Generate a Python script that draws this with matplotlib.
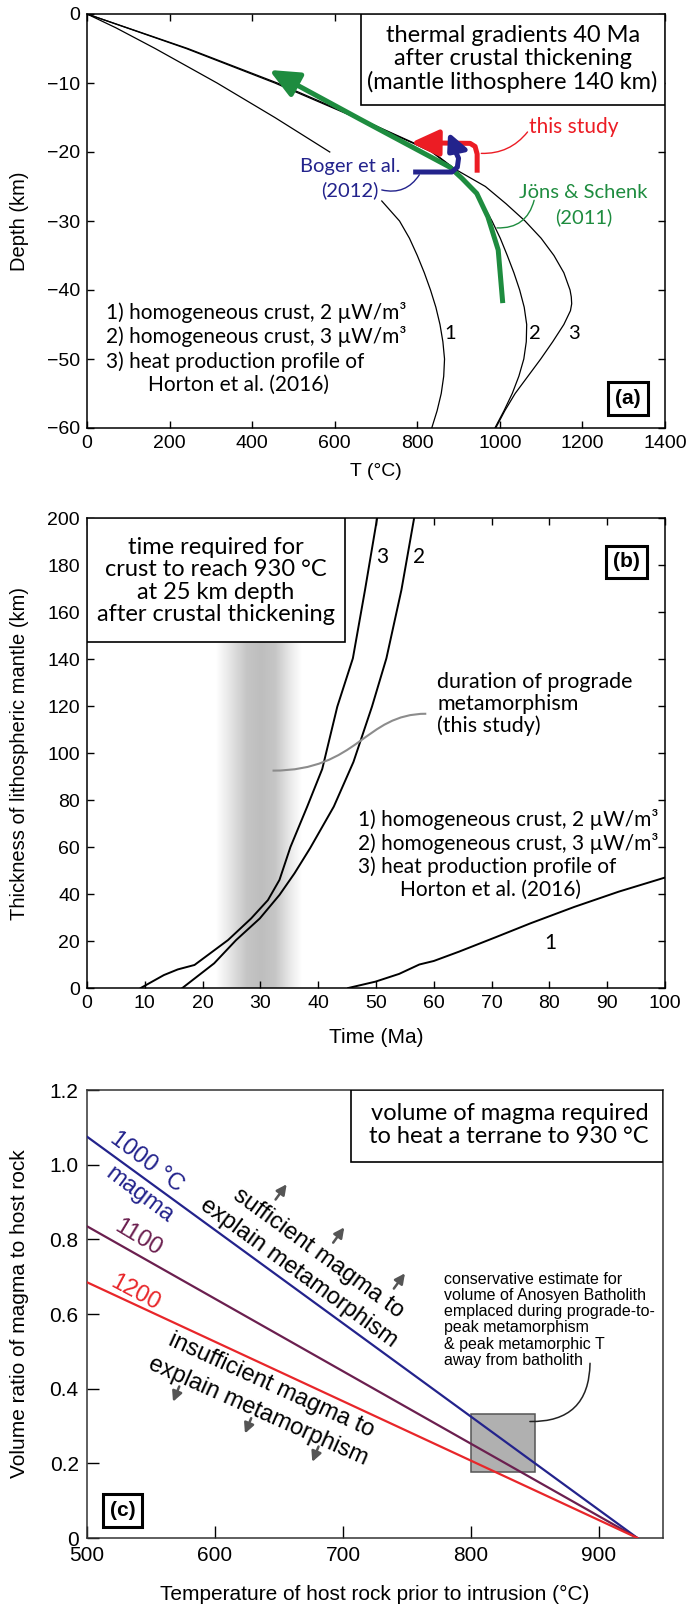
import numpy as np
import matplotlib.pyplot as plt
from matplotlib.patches import Rectangle, FancyArrowPatch, PathPatch
from matplotlib.path import Path

SANS = ['Liberation Sans', 'DejaVu Sans']
MYR = ['Lato', 'DejaVu Sans']
plt.rcParams['font.family'] = SANS
plt.rcParams['axes.linewidth'] = 1.1

GREEN = '#1e8c3f'
RED = '#ec1c24'
NAVY = '#23238c'
PURPLE = '#6b1f4f'
RED_C = '#e8262a'

# === (a) geotherms 40 Ma after crustal thickening ===
depth_1 = [0, -2, -5, -10, -15, -20, -25, -27.1, -30, -32.5, -35, -37.5, -40, -42.5, -45,
           -47.5, -50, -52.5, -55, -57.5, -60]
temp_1 = [0, 70, 165, 315, 455, 588, 685, 714, 757, 781, 800, 817, 832, 845, 855,
          862, 866, 864, 858, 848, 835]
gap_1 = (-27.1, -20.0)  # curve 1 is cut behind the Boger et al. label

depth_2 = [0, -5, -10, -15, -18.7, -20, -22.5, -25, -27.5, -30, -32.5, -35, -37.5, -40, -42.5,
           -45, -47.5, -50, -52.5, -55, -57.5, -60]
temp_2 = [0, 240, 455, 650, 789, 835, 890, 930, 958, 981, 1001, 1018, 1034, 1048, 1059,
          1065, 1064, 1058, 1046, 1030, 1010, 988]

depth_3 = [0, -5, -10, -15, -18.7, -20, -22.5, -25, -27.5, -30, -32.5, -35, -37.5, -40, -41,
           -42, -43, -45, -47.5, -50, -52.5, -55, -57.5, -60]
temp_3 = [0, 244, 461, 655, 792, 837, 892, 965, 1015, 1061, 1100, 1131, 1155, 1170, 1173,
          1174, 1171, 1155, 1128, 1099, 1068, 1037, 1012, 990]

# P-T paths
jons_T = [1007, 996, 971, 944, 908, 879, 660, 441]
jons_d = [-41.9, -34.2, -29.4, -26.0, -23.8, -22.2, -15.2, -8.1]
study_T = [945, 945, 940, 928, 784]
study_d = [-23.0, -20.3, -19.2, -18.75, -18.65]
boger_T = [790, 884, 897, 900, 893, 882, 872]
boger_d = [-22.9, -22.9, -22.2, -20.9, -20.0, -19.9, -20.6]

# === (b) time to reach 930 C at 25 km ===
time_1 = [45.2, 49.9, 54.0, 57.5, 60.0, 64.4, 70.6, 76.7, 84.3, 92.0, 100.0]
thick_1 = [0, 2.7, 6.0, 10.0, 11.5, 15.5, 21.5, 27.5, 34.5, 41.0, 47.0]
time_2 = [16.5, 22.0, 25.8, 29.9, 33.3, 35.9, 38.6, 42.7, 46.1, 49.3, 51.8, 54.4, 56.6]
thick_2 = [0, 10.5, 20.4, 29.6, 39.6, 48.8, 59.5, 77.2, 96.2, 119.7, 140.3, 169.4, 200]
time_3 = [9.3, 13.3, 15.7, 18.6, 24.4, 28.4, 31.3, 33.3, 35.2, 38.1, 40.7, 43.3, 46.0, 48.1, 50.2]
thick_3 = [0, 5.5, 7.9, 9.8, 20.4, 29.6, 37.4, 46, 60, 77.2, 93.2, 119.7, 140.3, 169.4, 200]
# prograde duration band (shade strength across the band)
band_t = [22.3, 24.5, 27.5, 30.0, 32.5, 35.0, 37.1]
band_a = [0, 0.3, 0.75, 0.85, 0.75, 0.3, 0]

# === (c) magma volume ===
host_T = [500, 930]
ratio_1000 = [1.075, 0.0]
ratio_1100 = [0.835, 0.0]
ratio_1200 = [0.685, 0.0]
bath_T = (800, 850)
bath_v = (0.177, 0.333)
up_tips_T = [656, 701, 748.4]
up_tips_v = [0.9475, 0.832, 0.709]
down_tips_T = [567.2, 623.4, 676]
down_tips_v = [0.365, 0.28, 0.204]

fig = plt.figure(figsize=(6.89, 16.10), dpi=100)
L, W = 87 / 689, 578 / 689
axa = fig.add_axes([L, 1 - 428 / 1610, W, 414 / 1610])
axb = fig.add_axes([L, 1 - 988 / 1610, W, 470 / 1610])
axc = fig.add_axes([L, 1 - 1538 / 1610, 576 / 689, 448 / 1610])


def label_box(ax, x, y, s):
    ax.text(x, y, s, ha='center', va='center', fontsize=15, fontweight='bold',
            bbox=dict(boxstyle='square,pad=0.33', fc='white', ec='black', lw=2.2), zorder=6)


# ---------------- (a) ----------------
ax = axa
d1 = np.array(depth_1, float)
t1 = np.array(temp_1, float)
t1[(d1 > gap_1[0]) & (d1 < gap_1[1])] = np.nan
ax.plot(t1, d1, color='black', lw=0.9)
ax.plot(temp_2, depth_2, color='black', lw=0.9)
ax.plot(temp_3, depth_3, color='black', lw=0.9)

for T, d, col, hl, hw in [(jons_T, jons_d, GREEN, 1.8, 0.8), (study_T, study_d, RED, 1.7, 0.8),
                          (boger_T, boger_d, NAVY, 0.9, 0.7)]:
    p = Path(list(zip(T, d)))
    ax.add_patch(FancyArrowPatch(path=p, arrowstyle=f'-|>,head_length={hl},head_width={hw}',
                                 mutation_scale=10, lw=3.6, color=col, zorder=4,
                                 joinstyle='round', capstyle='butt'))

ax.set_xlim(0, 1400)
ax.set_ylim(-60, 0)
ax.set_xticks(np.arange(0, 1401, 200))
ax.set_yticks(np.arange(-60, 1, 10))
ax.tick_params(direction='in', length=5, width=1, top=True, right=True, labelsize=14, pad=5)
ax.set_xlabel('T (°C)', fontsize=14)
ax.xaxis.set_label_coords(0.5, -0.085)
ax.set_ylabel('Depth (km)', fontsize=14.5)
ax.yaxis.set_label_coords(-0.1, 0.5)

ax.add_patch(Rectangle((663, -13.2), 737, 13.2, fc='white', ec='black', lw=1.2, zorder=3))
ax.text(1031, -6.5, 'thermal gradients 40 Ma\nafter crustal thickening\n(mantle lithosphere 140 km)',
        ha='center', va='center', fontsize=17, family=MYR, linespacing=1.12, zorder=5)

for y, s in [(-43.3, '1) homogeneous crust, 2 µW/m³'), (-46.7, '2) homogeneous crust, 3 µW/m³'),
             (-50.4, '3) heat production profile of')]:
    ax.text(46, y, s, ha='left', va='center', fontsize=15, family=MYR)
ax.text(367, -53.8, 'Horton et al. (2016)', ha='center', va='center', fontsize=15, family=MYR)
for x, s in [(880, '1'), (1086, '2'), (1180, '3')]:
    ax.text(x, -46.3, s, ha='center', va='center', fontsize=14.5, family=MYR)

ax.text(1180, -16.4, 'this study', color=RED, ha='center', va='center', fontsize=15, family=MYR)
ax.annotate('', xy=(955, -20.2), xytext=(1067, -17.1),
            arrowprops=dict(arrowstyle='-', color=RED, lw=1, connectionstyle='arc3,rad=-0.25',
                            shrinkA=0, shrinkB=0))
ax.text(637, -22.1, 'Boger et al.', color=NAVY, ha='center', va='center', fontsize=14.5, family=MYR)
ax.text(637, -25.5, '(2012)', color=NAVY, ha='center', va='center', fontsize=14.5, family=MYR)
ax.annotate('', xy=(805, -23.3), xytext=(714, -25.5),
            arrowprops=dict(arrowstyle='-', color=NAVY, lw=1, connectionstyle='arc3,rad=0.35',
                            shrinkA=0, shrinkB=0))
ax.text(1203, -25.9, 'Jöns & Schenk', color=GREEN, ha='center', va='center', fontsize=14.5, family=MYR)
ax.text(1203, -29.4, '(2011)', color=GREEN, ha='center', va='center', fontsize=14.5, family=MYR)
ax.annotate('', xy=(993, -31.0), xytext=(1083, -27.0),
            arrowprops=dict(arrowstyle='-', color=GREEN, lw=1, connectionstyle='arc3,rad=-0.4',
                            shrinkA=0, shrinkB=0))
label_box(ax, 1310, -55.75, '(a)')

# ---------------- (b) ----------------
ax = axb
xs = np.linspace(band_t[0], band_t[-1], 300)
shade = 1 - 0.3 * np.interp(xs, band_t, band_a)
img = np.repeat(np.tile(shade, (2, 1))[..., None], 3, axis=2)
ax.imshow(img, extent=[band_t[0], band_t[-1], 0, 200], aspect='auto', origin='lower',
          interpolation='bilinear', zorder=0)
ax.plot(time_1, thick_1, color='black', lw=1.4)
ax.plot(time_2, thick_2, color='black', lw=1.4)
ax.plot(time_3, thick_3, color='black', lw=1.4)
ax.set_xlim(0, 100)
ax.set_ylim(0, 200)
ax.set_xticks(np.arange(0, 101, 10))
ax.set_yticks(np.arange(0, 201, 20))
ax.tick_params(direction='in', length=5, width=1, top=True, right=True, labelsize=14, pad=5)
ax.set_xlabel('Time (Ma)', fontsize=15)
ax.xaxis.set_label_coords(0.5, -0.085)
ax.set_ylabel('Thickness of lithospheric mantle (km)', fontsize=14.5)
ax.yaxis.set_label_coords(-0.1, 0.5)

ax.add_patch(Rectangle((0, 147.4), 44.6, 52.6, fc='white', ec='black', lw=1.2, zorder=3))
ax.text(22.3, 173.2, 'time required for\ncrust to reach 930 °C\nat 25 km depth\nafter crustal thickening',
        ha='center', va='center', fontsize=17, family=MYR, linespacing=1.08, zorder=5)
ax.text(60.6, 120.9, 'duration of prograde\nmetamorphism\n(this study)', ha='left', va='center',
        fontsize=15.5, family=MYR, linespacing=1.1)
lead = Path([(32.1, 92.5), (47, 92.5), (48, 116.7), (58.7, 116.7)],
            [Path.MOVETO, Path.CURVE4, Path.CURVE4, Path.CURVE4])
ax.add_patch(PathPatch(lead, fc='none', ec='#8c8c8c', lw=1.5, zorder=2))
for y, s in [(71.5, '1) homogeneous crust, 2 µW/m³'), (61.7, '2) homogeneous crust, 3 µW/m³'),
             (51.5, '3) heat production profile of')]:
    ax.text(46.9, y, s, ha='left', va='center', fontsize=15, family=MYR)
ax.text(69.8, 41.7, 'Horton et al. (2016)', ha='center', va='center', fontsize=15, family=MYR)
ax.text(51.0, 183.5, '3', ha='center', va='center', fontsize=15, family=MYR)
ax.text(57.5, 183.5, '2', ha='center', va='center', fontsize=15, family=MYR)
ax.text(80.2, 19.1, '1', ha='center', va='center', fontsize=15, family=MYR)
label_box(ax, 93.3, 181.3, '(b)')

# ---------------- (c) ----------------
ax = axc
ax.plot(host_T, ratio_1000, color=NAVY, lw=1.6, zorder=4)
ax.plot(host_T, ratio_1100, color=PURPLE, lw=1.6, zorder=4)
ax.plot(host_T, ratio_1200, color=RED_C, lw=1.6, zorder=4)
ax.add_patch(Rectangle((bath_T[0], bath_v[0]), bath_T[1] - bath_T[0], bath_v[1] - bath_v[0],
                       fc='#b0b0b0', ec='#555555', lw=1.1, zorder=2))
ax.set_xlim(500, 950)
ax.set_ylim(0, 1.2)
ax.set_xticks([500, 600, 700, 800, 900])
ax.set_yticks([0, 0.2, 0.4, 0.6, 0.8, 1.0, 1.2])
ax.set_yticklabels(['0', '0.2', '0.4', '0.6', '0.8', '1.0', '1.2'])
ax.tick_params(direction='in', length=8.5, width=1, labelsize=15, pad=6)
for s in ax.spines.values():
    s.set_color('#333333')
ax.set_xlabel('Temperature of host rock prior to intrusion (°C)', fontsize=15)
ax.xaxis.set_label_coords(0.5, -0.105)
ax.set_ylabel('Volume ratio of magma to host rock', fontsize=15)
ax.yaxis.set_label_coords(-0.1, 0.5)

ax.add_patch(Rectangle((706, 1.007), 244, 0.193, fc='white', ec='black', lw=1.2, zorder=3))
ax.text(938.6, 1.105, 'volume of magma required\nto heat a terrane to 930 °C', ha='right', va='center',
        fontsize=17, family=MYR, linespacing=1.12, zorder=5)

rot = dict(ha='center', va='center', rotation_mode='anchor', fontsize=17)
ax.text(547, 1.007, '1000 °C', color=NAVY, rotation=-37, **rot)
ax.text(541, 0.919, 'magma', color=NAVY, rotation=-37, **rot)
ax.text(540, 0.804, '1100', color=PURPLE, rotation=-31, **rot)
ax.text(537.5, 0.656, '1200', color=RED_C, rotation=-28, **rot)
ax.text(681, 0.763, 'sufficient magma to', rotation=-36, **rot)
ax.text(665, 0.71, 'explain metamorphism', rotation=-36, **rot)
ax.text(644, 0.41, 'insufficient magma to', rotation=-24.5, **rot)
ax.text(634, 0.34, 'explain metamorphism', rotation=-24, **rot)

for T, v in zip(up_tips_T, up_tips_v):
    ax.annotate('', xy=(T, v), xytext=(-8, -11), textcoords='offset points',
                arrowprops=dict(arrowstyle='-|>,head_length=0.6,head_width=0.3', color='#555555',
                                lw=1.8, shrinkA=0, shrinkB=0))
for T, v in zip(down_tips_T, down_tips_v):
    ax.annotate('', xy=(T, v), xytext=(4.5, 11), textcoords='offset points',
                arrowprops=dict(arrowstyle='-|>,head_length=0.6,head_width=0.3', color='#555555',
                                lw=1.8, shrinkA=0, shrinkB=0))

ax.text(779, 0.713, 'conservative estimate for\nvolume of Anosyen Batholith\nemplaced during prograde-to-\n'
        'peak metamorphism\n& peak metamorphic T\naway from batholith',
        ha='left', va='top', fontsize=11.5, linespacing=1.1)
ax.annotate('', xy=(846, 0.312), xytext=(893, 0.468),
            arrowprops=dict(arrowstyle='-', color='#222222', lw=1.1, connectionstyle='arc3,rad=-0.5',
                            shrinkA=0, shrinkB=0))
label_box(ax, 527.7, 0.0737, '(c)')

fig.savefig('out.png', dpi=100)
